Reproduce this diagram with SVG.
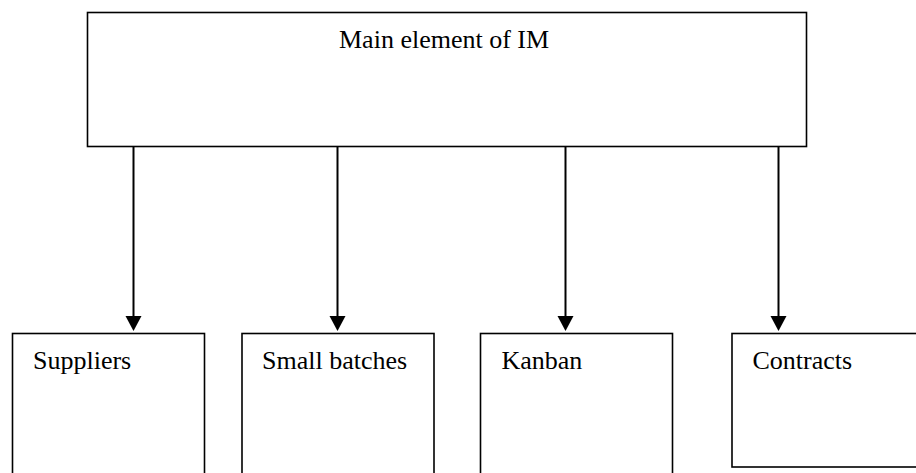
<svg xmlns="http://www.w3.org/2000/svg" width="916" height="473" viewBox="0 0 916 473">
  <style>
    .box { fill: #ffffff; stroke: #000000; stroke-width: 1.6; }
    .label { font-family: "Liberation Serif", "Times New Roman", serif; font-size: 26px; fill: #000000; }
    .link { stroke: #000000; stroke-width: 2; fill: none; }
    .head { fill: #000000; }
  </style>
  <rect x="0" y="0" width="916" height="473" fill="#ffffff"/>

  <g id="main">
    <rect class="box" x="87.5" y="12.5" width="719" height="134"/>
    <text class="label" x="339" y="48">Main element of IM</text>
  </g>

  <g id="connectors">
    <line class="link" x1="133.5" y1="147" x2="133.5" y2="318"/>
    <polygon class="head" points="125.5,316 141.5,316 133.5,331"/>
    <line class="link" x1="337.5" y1="147" x2="337.5" y2="318"/>
    <polygon class="head" points="329.5,316 345.5,316 337.5,331"/>
    <line class="link" x1="565.5" y1="147" x2="565.5" y2="318"/>
    <polygon class="head" points="557.5,316 573.5,316 565.5,331"/>
    <line class="link" x1="778.5" y1="147" x2="778.5" y2="318"/>
    <polygon class="head" points="770.5,316 786.5,316 778.5,331"/>
  </g>

  <g id="suppliers">
    <rect class="box" x="12.5" y="333.5" width="192" height="150"/>
    <text class="label" x="33" y="369">Suppliers</text>
  </g>

  <g id="small-batches">
    <rect class="box" x="242" y="333.5" width="192" height="150"/>
    <text class="label" x="262" y="369">Small batches</text>
  </g>

  <g id="kanban">
    <rect class="box" x="480.5" y="333.5" width="192" height="150"/>
    <text class="label" x="501.5" y="369">Kanban</text>
  </g>

  <g id="contracts">
    <rect class="box" x="732" y="333.5" width="200" height="133.5"/>
    <text class="label" x="752.5" y="369">Contracts</text>
  </g>
</svg>
